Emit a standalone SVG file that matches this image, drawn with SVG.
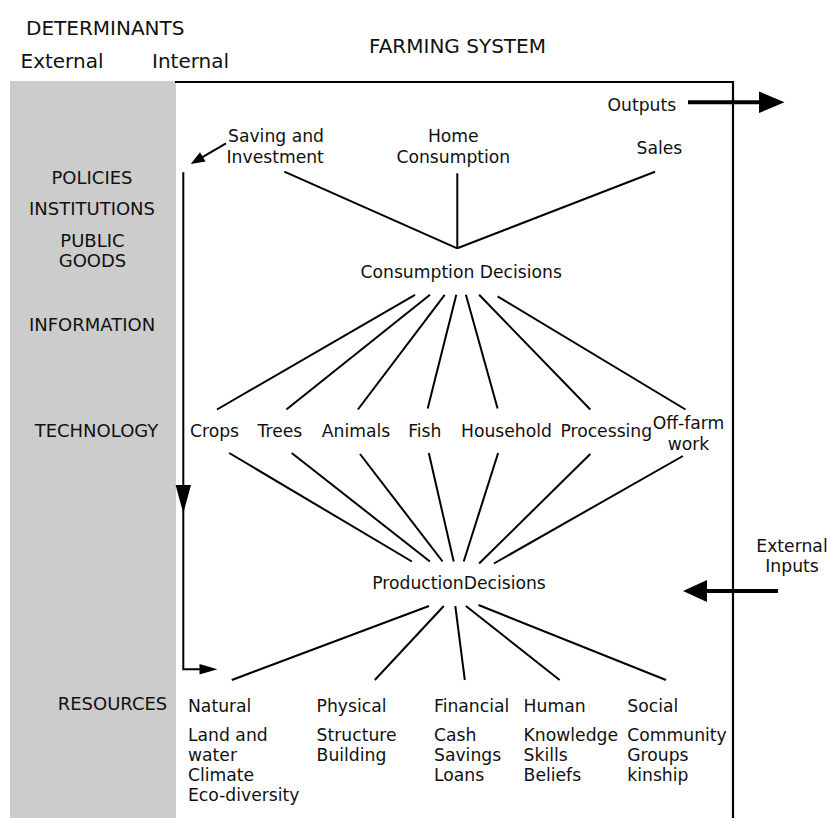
<svg xmlns="http://www.w3.org/2000/svg" width="830" height="818" viewBox="0 0 830 818">
<style>
text{font-family:"DejaVu Sans",Verdana,sans-serif;fill:#111}
.h{font-size:20px}
.g{font-size:18px;text-anchor:middle}
.l{font-size:17.2px}
.m{text-anchor:middle}
.ln{stroke:#000;stroke-width:2;fill:none}
.box{stroke:#000;stroke-width:2.2;fill:none}
.thick{stroke:#000;stroke-width:4;fill:none}
.ah{fill:#000;stroke:none}
</style>
<rect id="external-zone" x="10" y="81" width="166" height="737" fill="#cccccc"/>
<g id="farming-system-box">
<path class="box" d="M175,82 H733 V818"/>
</g>
<g id="headings">
<text class="h" x="26" y="35">DETERMINANTS</text>
<text class="h" x="20.5" y="68">External</text>
<text class="h" x="152" y="68">Internal</text>
<text class="h" x="369" y="53">FARMING SYSTEM</text>
</g>
<g id="node-policies"><text class="g" x="92" y="184">POLICIES</text></g>
<g id="node-institutions"><text class="g" x="92" y="215">INSTITUTIONS</text></g>
<g id="node-public-goods"><text class="g" x="92.5" y="246.5">PUBLIC</text><text class="g" x="92.5" y="267">GOODS</text></g>
<g id="node-information"><text class="g" x="92" y="331">INFORMATION</text></g>
<g id="node-technology"><text class="g" x="96.5" y="437">TECHNOLOGY</text></g>
<g id="node-resources"><text class="g" x="112.5" y="709.5">RESOURCES</text></g>

<g id="node-outputs"><text class="l" x="607.5" y="111">Outputs</text></g>
<g id="node-external-inputs"><text class="l m" x="792" y="552">External</text><text class="l m" x="792" y="572">Inputs</text></g>
<g id="node-saving"><text class="l" x="228" y="142.3">Saving and</text><text class="l" x="226.5" y="162.7">Investment</text></g>
<g id="node-home"><text class="l m" x="453.3" y="142.3">Home</text><text class="l m" x="453.3" y="162.7">Consumption</text></g>
<g id="node-sales"><text class="l" x="636.5" y="153.5">Sales</text></g>
<g id="node-consumption-decisions"><text class="l m" x="461.2" y="277.5">Consumption Decisions</text></g>
<g id="node-crops"><text class="l" x="190" y="436.5">Crops</text></g>
<g id="node-trees"><text class="l" x="257.5" y="436.5">Trees</text></g>
<g id="node-animals"><text class="l" x="321.8" y="436.5">Animals</text></g>
<g id="node-fish"><text class="l" x="408.2" y="436.5">Fish</text></g>
<g id="node-household"><text class="l" x="461" y="436.5">Household</text></g>
<g id="node-processing"><text class="l" x="560.4" y="436.5">Processing</text></g>
<g id="node-off-farm"><text class="l m" x="688.5" y="428.5">Off-farm</text><text class="l m" x="688.5" y="450">work</text></g>
<g id="node-production-decisions"><text class="l m" x="459" y="589">ProductionDecisions</text></g>
<g id="node-natural"><text class="l" x="188" y="712">Natural</text><text class="l" x="188" y="741">Land and</text><text class="l" x="188" y="761">water</text><text class="l" x="188" y="781">Climate</text><text class="l" x="188" y="801">Eco-diversity</text></g>
<g id="node-physical"><text class="l" x="316.6" y="712">Physical</text><text class="l" x="316.6" y="741">Structure</text><text class="l" x="316.6" y="761">Building</text></g>
<g id="node-financial"><text class="l" x="434" y="712">Financial</text><text class="l" x="434" y="741">Cash</text><text class="l" x="434" y="761">Savings</text><text class="l" x="434" y="781">Loans</text></g>
<g id="node-human"><text class="l" x="523.6" y="712">Human</text><text class="l" x="523.6" y="741">Knowledge</text><text class="l" x="523.6" y="761">Skills</text><text class="l" x="523.6" y="781">Beliefs</text></g>
<g id="node-social"><text class="l" x="627.3" y="712">Social</text><text class="l" x="627.3" y="741">Community</text><text class="l" x="627.3" y="761">Groups</text><text class="l" x="627.3" y="781">kinship</text></g>

<g id="connectors">
<!-- outputs / inputs -->
<line class="thick" x1="688" y1="102.3" x2="761" y2="102.3"/>
<polygon class="ah" points="759,91.5 784.5,102.3 759,113"/>
<line class="thick" x1="705" y1="591" x2="778" y2="591"/>
<polygon class="ah" points="683,591 707,580 707,602"/>
<!-- saving arrow -->
<line class="ln" x1="226" y1="143.3" x2="202" y2="157.3"/>
<polygon class="ah" points="190.7,164 200,152.2 205.6,161.6"/>
<!-- internal feedback line -->
<path class="ln" d="M183.3,172.3 V669.3 H203"/>
<polygon class="ah" points="183.3,513.3 175.6,485 191,485"/>
<polygon class="ah" points="217.5,669.3 199.5,664 199.5,674.6"/>
<!-- to consumption decisions -->
<line class="ln" x1="284.3" y1="171.7" x2="457.3" y2="248.3"/>
<line class="ln" x1="457.3" y1="173.3" x2="457.3" y2="248.3"/>
<line class="ln" x1="655" y1="171.7" x2="457.3" y2="248.3"/>
<!-- consumption decisions to activities -->
<line class="ln" x1="415" y1="294.8" x2="217" y2="409.5"/>
<line class="ln" x1="430" y1="294.8" x2="286.4" y2="409.5"/>
<line class="ln" x1="444.7" y1="294.8" x2="357.9" y2="409.5"/>
<line class="ln" x1="456.3" y1="294.8" x2="427.7" y2="408.5"/>
<line class="ln" x1="465.9" y1="294.8" x2="497.6" y2="408.5"/>
<line class="ln" x1="479.1" y1="294.8" x2="590.3" y2="409.5"/>
<line class="ln" x1="497.6" y1="296.4" x2="685.5" y2="409.5"/>
<!-- activities to production decisions -->
<line class="ln" x1="229.2" y1="453" x2="411.9" y2="561.5"/>
<line class="ln" x1="291.7" y1="453" x2="429.9" y2="561.5"/>
<line class="ln" x1="360" y1="454" x2="442.6" y2="561.5"/>
<line class="ln" x1="428.8" y1="453" x2="453.7" y2="561.5"/>
<line class="ln" x1="498.1" y1="453" x2="463.7" y2="561.5"/>
<line class="ln" x1="590.3" y1="454" x2="479.1" y2="563.5"/>
<line class="ln" x1="682.9" y1="456" x2="493.9" y2="563.5"/>
<!-- production decisions to resources -->
<line class="ln" x1="429" y1="606" x2="231.8" y2="680"/>
<line class="ln" x1="443.8" y1="606" x2="374.8" y2="680"/>
<line class="ln" x1="455.3" y1="606" x2="464.8" y2="680"/>
<line class="ln" x1="465.9" y1="606" x2="559.6" y2="680"/>
<line class="ln" x1="478.5" y1="605" x2="666" y2="680"/>
</g>
</svg>
